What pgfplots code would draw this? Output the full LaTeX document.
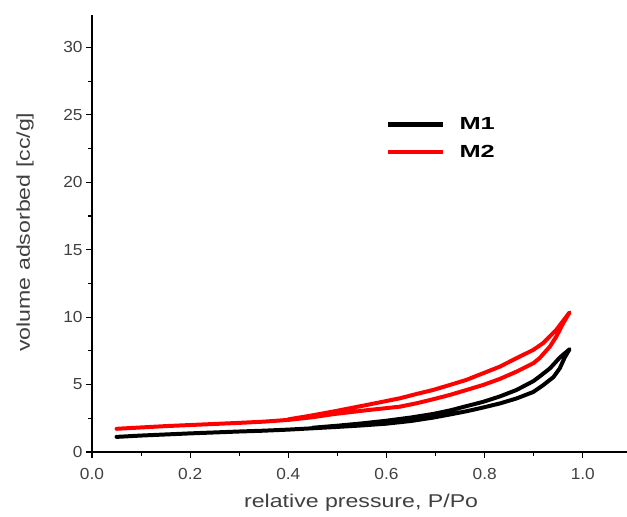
\documentclass[border=0pt]{standalone}
\usepackage{pgfplots}
\pgfplotsset{compat=1.18}
\usepackage{fontspec}
\setmainfont{Liberation Sans}
\newfontfamily\labfont[FakeStretch=1.25]{Liberation Sans}
\newfontfamily\tickfont[FakeStretch=1.08]{Liberation Sans}
\newfontfamily\legfont[FakeStretch=1.45]{Liberation Sans}
\definecolor{txtgray}{HTML}{404040}
\definecolor{mred}{HTML}{FF0000}
\begin{document}
\begin{tikzpicture}
\begin{axis}[
  name=ax,
  scale only axis,
  width=535bp, height=437bp,
  xmin=0, xmax=1.09, ymin=0, ymax=32.4,
  axis x line*=bottom, axis y line*=left,
  axis line style={black, line width=1.1pt},
  tick align=outside,
  major tick length=6bp, minor tick length=3.5bp,
  tick style={black, line width=1.1pt},
  xtick={0,0.2,0.4,0.6,0.8,1.0},
  minor xtick={0.1,0.3,0.5,0.7,0.9},
  ytick={0,5,10,15,20,25,30},
  minor ytick={2.5,7.5,12.5,17.5,22.5,27.5},
  /pgf/number format/assume math mode=true,
  ticklabel style={font=\tickfont\fontsize{16bp}{18bp}\selectfont, text=txtgray},
  xticklabel style={yshift=-7bp, /pgf/number format/fixed, /pgf/number format/fixed zerofill, /pgf/number format/precision=1},
  xlabel={relative pressure, P/Po},
  ylabel={volume adsorbed [cc/g]},
  label style={font=\labfont\fontsize{18.5bp}{20bp}\selectfont, text=txtgray},
  xlabel style={at={(axis description cs:0.503,-0.115)}, anchor=center},
  ylabel style={at={(axis description cs:-0.125,0.503)}, anchor=center},
  legend cell align=left,
  legend style={at={(axis cs:0.593,25.1)}, anchor=north west, draw=none, fill=none,
    font=\legfont\bfseries\fontsize{17.5bp}{20bp}\selectfont,
    row sep=10bp,
    /tikz/every odd column/.append style={column sep=12bp}},
  legend image code/.code={\draw[#1, line width=4.3pt, line cap=butt] (0bp,0bp) -- (55bp,0bp);},
  every axis plot/.append style={line width=4pt, line join=round, line cap=round},
]
\addplot[black] coordinates {
(0.05,1.12) (0.10,1.22) (0.15,1.30) (0.20,1.38) (0.25,1.45) (0.30,1.52)
(0.35,1.58) (0.40,1.66) (0.45,1.76) (0.50,1.86) (0.55,1.97) (0.60,2.10)
(0.65,2.30) (0.695,2.55) (0.729,2.78) (0.763,3.02) (0.797,3.30) (0.831,3.60)
(0.865,3.97) (0.899,4.45) (0.919,4.95) (0.94,5.55) (0.953,6.20) (0.963,7.00)
(0.973,7.62)
(0.953,7.00) (0.933,6.20) (0.912,5.60) (0.899,5.25) (0.865,4.60) (0.831,4.12)
(0.797,3.72) (0.763,3.40) (0.729,3.08) (0.695,2.82) (0.65,2.56) (0.60,2.32)
(0.55,2.12) (0.50,1.95) (0.45,1.80)
};
\addlegendentry{M1}
\addplot[mred] coordinates {
(0.05,1.72) (0.10,1.82) (0.15,1.92) (0.20,2.00) (0.25,2.08) (0.30,2.16)
(0.35,2.25) (0.40,2.38) (0.45,2.58) (0.49,2.80) (0.56,3.10) (0.627,3.36)
(0.661,3.61) (0.695,3.91) (0.729,4.23) (0.763,4.60) (0.797,4.97) (0.831,5.42)
(0.865,5.96) (0.899,6.58) (0.912,6.96) (0.933,7.82) (0.946,8.56) (0.96,9.55)
(0.973,10.35)
(0.946,9.06) (0.919,8.07) (0.899,7.57) (0.865,6.96) (0.831,6.33) (0.797,5.84)
(0.763,5.35) (0.729,4.97) (0.695,4.60) (0.661,4.30) (0.627,3.98) (0.56,3.49)
(0.49,2.99) (0.44,2.66) (0.40,2.42)
};
\addlegendentry{M2}
\end{axis}
\pgfresetboundingbox
\path ([shift={(-92bp,-65bp)}]ax.south west) rectangle ([shift={(0bp,15bp)}]ax.north east);
\end{tikzpicture}
\end{document}
